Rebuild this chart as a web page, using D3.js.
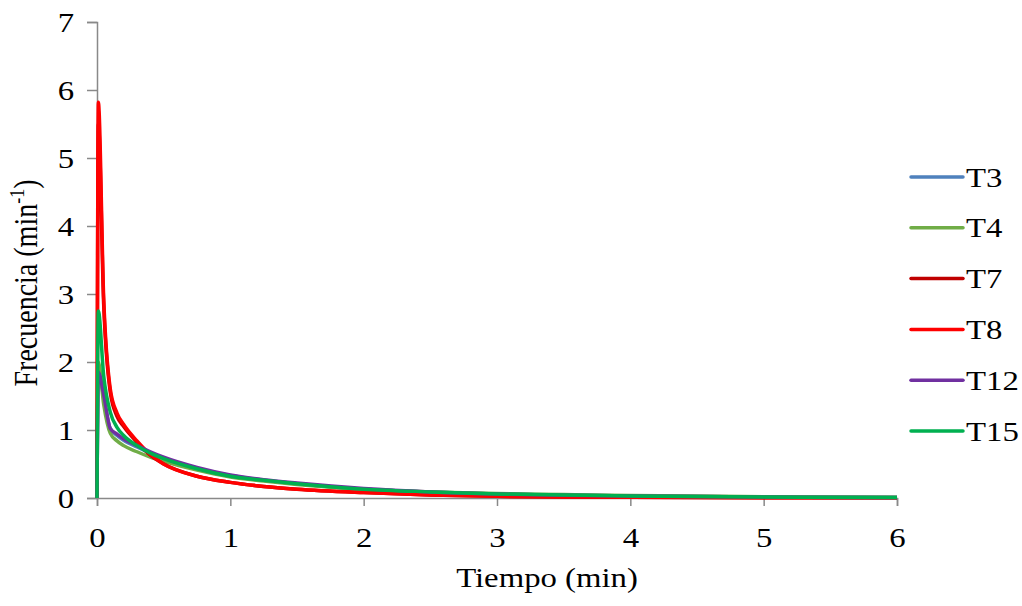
<!DOCTYPE html>
<html>
<head>
<meta charset="utf-8">
<script src="https://cdn.jsdelivr.net/npm/d3@7"></script>
<style>
  html, body { margin: 0; padding: 0; background: #fff; }
  svg text { font-family: "Times New Roman", "Liberation Serif", Tinos, "DejaVu Serif", serif; fill: #000; }
</style>
</head>
<body>
<div id="chart"></div>
<script>
// time (min)
const tiempo = [0, 0.01, 0.05, 0.1, 0.15, 0.2, 0.3, 0.4, 0.5, 0.75, 1, 1.25, 1.5, 2, 2.5, 3, 3.5, 4, 5, 6];

// frecuencia (min^-1) per treatment
const t3  = [0, 1.90, 1.48, 1.02, 0.92, 0.85, 0.75, 0.66, 0.58, 0.44, 0.33, 0.26, 0.21, 0.13, 0.09, 0.06, 0.04, 0.03, 0.015, 0.007];
const t4  = [0, 2.00, 1.38, 0.95, 0.84, 0.77, 0.68, 0.60, 0.54, 0.41, 0.31, 0.25, 0.20, 0.13, 0.09, 0.065, 0.05, 0.035, 0.02, 0.01];
const t7  = [0, 5.50, 2.85, 1.55, 1.20, 1.05, 0.82, 0.63, 0.50, 0.32, 0.23, 0.17, 0.13, 0.08, 0.045, 0.025, 0.015, 0.01, 0.005, 0.002];
const t8  = [0, 5.82, 2.95, 1.60, 1.25, 1.08, 0.84, 0.64, 0.50, 0.32, 0.23, 0.17, 0.13, 0.08, 0.045, 0.025, 0.015, 0.01, 0.005, 0.002];
const t12 = [0, 1.85, 1.52, 1.02, 0.94, 0.87, 0.77, 0.68, 0.60, 0.45, 0.34, 0.27, 0.22, 0.14, 0.09, 0.06, 0.04, 0.03, 0.015, 0.007];
const t15 = [0, 2.75, 1.80, 1.26, 1.04, 0.92, 0.77, 0.66, 0.58, 0.43, 0.32, 0.26, 0.21, 0.13, 0.09, 0.06, 0.045, 0.03, 0.015, 0.008];

const seriesNames = ["T3", "T4", "T7", "T8", "T12", "T15"];
const seriesValues = [t3, t4, t7, t8, t12, t15];
const colors = ["#4F81BD", "#70AD47", "#C00000", "#FF0000", "#7030A0", "#00B050"];

const xTicks = [0, 1, 2, 3, 4, 5, 6];
const yTicks = [0, 1, 2, 3, 4, 5, 6, 7];

const width = 1022, height = 606;
const margin = { top: 22, right: 125, bottom: 108, left: 97 };
const axisColor = "#898989";
const fontSize = 28;
const stretch = 1.17; // source picture is a bit wider than tall

const svg = d3.select("#chart").append("svg")
    .attr("width", width)
    .attr("height", height);

const x = d3.scaleLinear().domain([0, 6]).range([margin.left, width - margin.right]);
const y = d3.scaleLinear().domain([0, 7]).range([height - margin.bottom, margin.top]);

// Y axis
const yAxis = svg.append("g")
    .attr("transform", `translate(${margin.left},0)`)
    .call(d3.axisLeft(y).tickValues(yTicks).tickSize(10).tickFormat(d3.format("d")));
yAxis.attr("font-family", null);
yAxis.select(".domain").attr("stroke", axisColor).attr("stroke-width", 1.5);
yAxis.selectAll(".tick line").attr("stroke", axisColor).attr("stroke-width", 1.5);
yAxis.selectAll(".tick text")
    .attr("x", -23 / stretch)
    .attr("dy", "0.34em")
    .attr("font-size", fontSize)
    .attr("transform", `scale(${stretch},1)`);

// X axis
const xAxis = svg.append("g")
    .attr("transform", `translate(0,${height - margin.bottom})`)
    .call(d3.axisBottom(x).tickValues(xTicks).tickSize(8).tickFormat(d3.format("d")));
xAxis.attr("font-family", null);
xAxis.select(".domain").attr("stroke", axisColor).attr("stroke-width", 1.5);
xAxis.selectAll(".tick line").attr("stroke", axisColor).attr("stroke-width", 1.5);
xAxis.selectAll(".tick text")
    .attr("y", 49)
    .attr("dy", null)
    .attr("font-size", fontSize)
    .attr("transform", `scale(${stretch},1)`);

// Lines
const line = d3.line()
    .x((d, i) => x(tiempo[i]))
    .y(d => y(d))
    .curve(d3.curveMonotoneX);

seriesValues.forEach((vals, i) => {
  svg.append("path")
      .datum(vals)
      .attr("fill", "none")
      .attr("stroke", colors[i])
      .attr("stroke-width", 3.5)
      .attr("stroke-linejoin", "round")
      .attr("d", line);
});

// Axis titles
svg.append("text")
    .attr("transform", `translate(547,587) scale(${stretch},1)`)
    .attr("text-anchor", "middle")
    .attr("font-size", fontSize)
    .text("Tiempo (min)");

const yTitle = svg.append("text")
    .attr("transform", `translate(37,283) scale(${stretch},1) rotate(-90)`)
    .attr("text-anchor", "middle")
    .attr("font-size", fontSize);
yTitle.append("tspan").text("Frecuencia (min");
yTitle.append("tspan").attr("dy", -11).attr("font-size", 18).text("-1");
yTitle.append("tspan").attr("dy", 11).text(")");

// Legend
const legend = svg.append("g").attr("transform", "translate(911,177)");
seriesNames.forEach((name, i) => {
  const g = legend.append("g").attr("transform", `translate(0,${i * 50.8})`);
  g.append("line")
      .attr("x1", 0).attr("x2", 52)
      .attr("stroke", colors[i])
      .attr("stroke-width", 3.5)
      .attr("stroke-linecap", "round");
  g.append("text")
      .attr("transform", `translate(55,0) scale(${stretch},1)`)
      .attr("dy", "0.34em")
      .attr("font-size", fontSize)
      .text(name);
});
</script>
</body>
</html>
